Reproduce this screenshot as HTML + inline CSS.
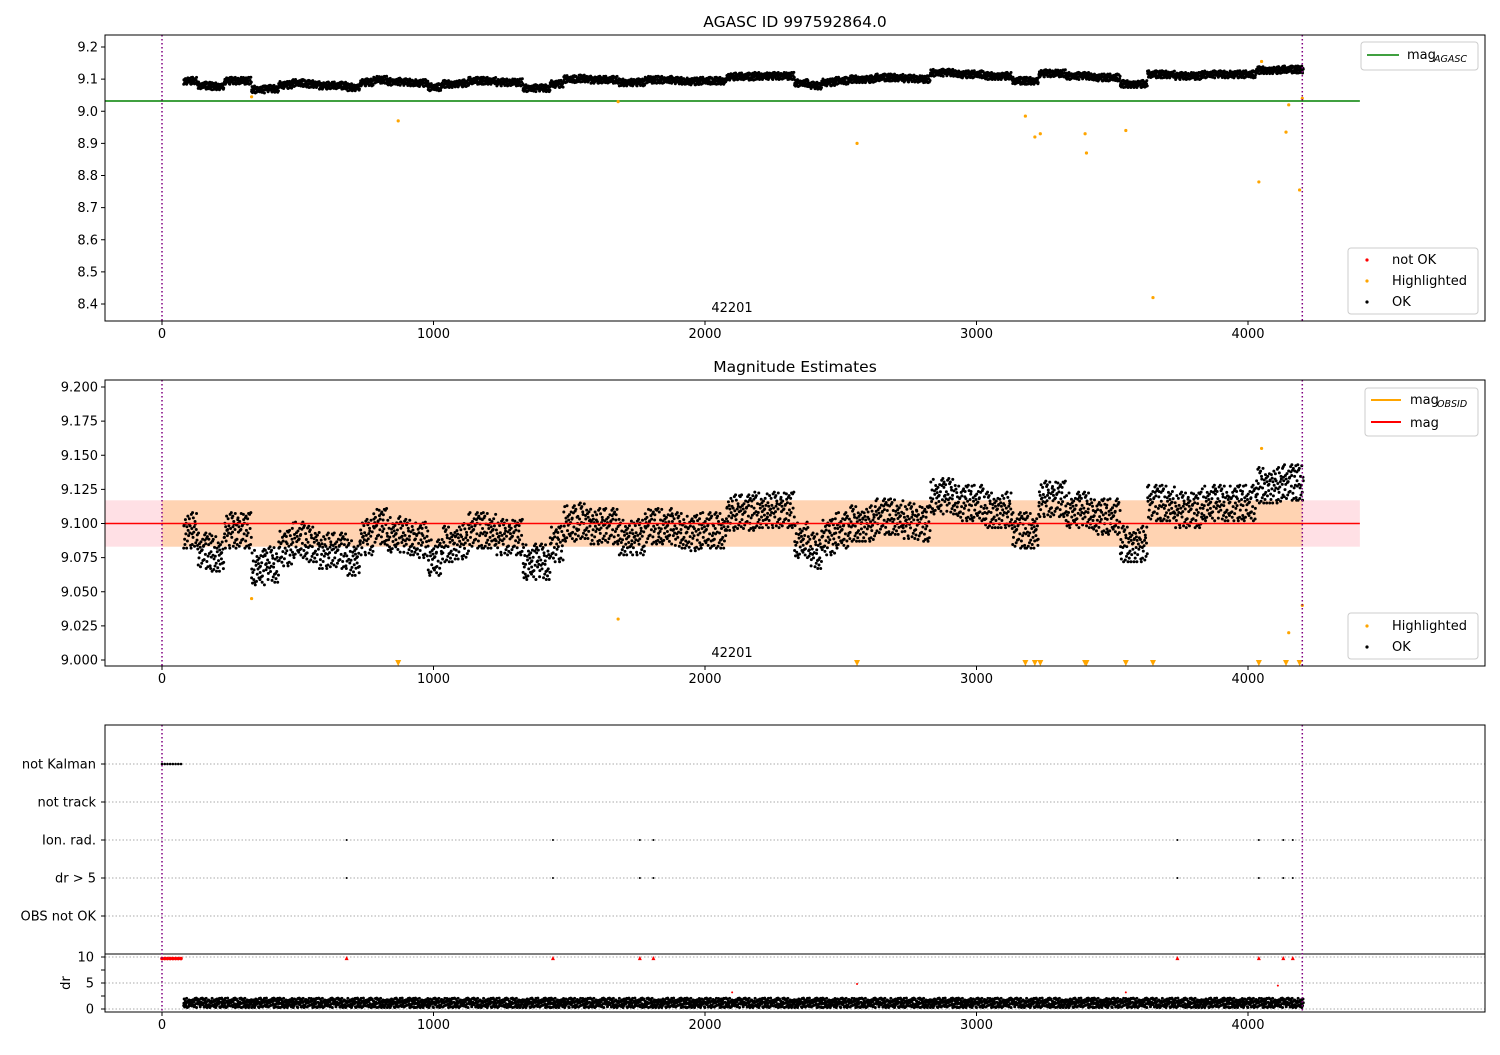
<!DOCTYPE html>
<html><head><meta charset="utf-8"><style>
body{margin:0;background:#fff;font-family:"Liberation Sans","DejaVu Sans",sans-serif}
svg text{font-family:"DejaVu Sans","Liberation Sans",sans-serif;fill:#000}
</style></head><body>
<svg id="c" width="1500" height="1050" xmlns="http://www.w3.org/2000/svg" style="font-size:13px"></svg>
<script>
// ---- data ----
const binStart = 80, binWidth = 50;
const magBins = [9.095,9.08,9.078,9.095,9.095,9.068,9.07,9.082,9.088,9.085,9.08,9.08,9.075,9.09,9.098,9.092,9.09,9.088,9.075,9.085,9.087,9.095,9.095,9.09,9.09,9.072,9.072,9.085,9.1,9.102,9.098,9.098,9.09,9.09,9.098,9.098,9.095,9.093,9.095,9.095,9.108,9.108,9.11,9.11,9.11,9.088,9.08,9.09,9.095,9.1,9.1,9.105,9.105,9.102,9.1,9.12,9.12,9.115,9.115,9.11,9.11,9.095,9.095,9.118,9.118,9.11,9.11,9.105,9.105,9.085,9.085,9.115,9.115,9.11,9.11,9.115,9.115,9.115,9.115,9.128,9.128,9.13,9.13,9.115];
const hiT = [330,870,1680,2560,3180,3215,3235,3400,3405,3550,3650,4040,4050,4140,4150,4190,4200];
const hiMag = [9.045,8.97,9.03,8.90,8.985,8.92,8.93,8.93,8.87,8.94,8.42,8.78,9.155,8.935,9.02,8.755,9.04];
const flagT = [680,1440,1760,1810,3740,4040,4130,4165];
const kalmanT = [0,10,20,30,40,50,60,70];
const drOutT = [2100,2560,3550,4110];
const drOut = [3.2,4.8,3.2,4.5];
const agascMag = 9.032, meanMag = 9.1, bandLo = 9.083, bandHi = 9.117;
const xTicks = [0,1000,2000,3000,4000];
const y1Ticks = [9.2,9.1,9.0,8.9,8.8,8.7,8.6,8.5,8.4];
const y2Ticks = [9.2,9.175,9.15,9.125,9.1,9.075,9.05,9.025,9.0];
const flagLabels = ["not Kalman","not track","Ion. rad.","dr > 5","OBS not OK"];
const drTicks = [10,5,0];
// ---- scales ----
const X = t => 162 + t*0.2715;
const Y1 = v => 47 + (9.2-v)*321.25;
const Y2 = v => 387 + (9.2-v)*1365;
const YF = i => 764 + i*38;
const YD = v => 1009 - v*5.2;
const S = document.getElementById('c'), NS='http://www.w3.org/2000/svg';
function mk(tag, at, txt){const e=document.createElementNS(NS,tag);for(const k in at)e.setAttribute(k,at[k]);if(txt!==undefined)e.textContent=txt;S.appendChild(e);return e;}
const jv=[-1,0.3,-0.5,0.9,0.1,-0.8,0.6,-0.2,1,-0.4,0.4,-1,0.7,-0.1,0.2,-0.6,0.8,-0.9,0.5,0,-0.3,0.35,-0.7,0.05,0.65,-0.15,0.95,-0.55,0.25,-0.85];
const NP=36;
function jt(k){return (k*0.6180339)%1;}
function jvv(k,i){return jv[(k*7+i*3)%jv.length];}
function axesFrame(y0,y1,name){const r=mk('rect',{x:105,y:y0,width:1380,height:y1-y0,fill:'none',stroke:'#000','stroke-width':1});
}
function xAxis(yb){xTicks.forEach(t=>{mk('line',{x1:X(t),x2:X(t),y1:yb,y2:yb+4,stroke:'#000'});
const e=mk('text',{x:X(t),y:yb+17,'text-anchor':'middle'},t);});}
function vlines(y0,y1){[0,4200].forEach(t=>mk('line',{x1:X(t),x2:X(t),y1:y0,y2:y1,stroke:'purple','stroke-width':1.5,'stroke-dasharray':'1.5,2.5'}));}
function binT(i,k){return binStart+(i+jt(k))*binWidth;}
// ---- panel 1 ----
let t1=mk('text',{x:795,y:27,'text-anchor':'middle',style:'font-size:15.5px'},'AGASC ID 997592864.0');
mk('line',{x1:X(-210),x2:X(4412),y1:Y1(agascMag),y2:Y1(agascMag),stroke:'green','stroke-width':1.5});
magBins.forEach((m,i)=>{for(let k=0;k<NP;k++){const t=binT(i,k);const v=m+jvv(k,i)*0.011;
if(t>4205)continue;const c=mk('circle',{cx:X(t),cy:Y1(v),r:1.5,fill:'#000'});}});
hiT.forEach((t,i)=>{const c=mk('circle',{cx:X(t),cy:Y1(hiMag[i]),r:1.6,fill:'orange'});});
vlines(35,321);axesFrame(35,321,'panel1-axes');xAxis(321);
y1Ticks.forEach(v=>{mk('line',{x1:101,x2:105,y1:Y1(v),y2:Y1(v),stroke:'#000'});mk('text',{x:98,y:Y1(v)+4.5,'text-anchor':'end'},v.toFixed(1));});
mk('text',{x:732,y:312,'text-anchor':'middle'},'42201');
mk('rect',{x:1361,y:42,width:117,height:28,rx:3,fill:'#fff',stroke:'#ccc'});
mk('line',{x1:1367,x2:1399,y1:55,y2:55,stroke:'green','stroke-width':1.5});
mk('text',{x:1407,y:59},'mag');mk('text',{x:1434,y:62,style:'font-size:9.5px;font-style:italic'},'AGASC');
mk('rect',{x:1348,y:248,width:130,height:66,rx:3,fill:'#fff',stroke:'#ccc'});
[['red','not OK'],['orange','Highlighted'],['#000','OK']].forEach((a,i)=>{mk('circle',{cx:1367,cy:260+i*21,r:1.6,fill:a[0]});mk('text',{x:1392,y:264+i*21},a[1]);});
// ---- panel 2 ----
let t2=mk('text',{x:795,y:372,'text-anchor':'middle',style:'font-size:15.5px'},'Magnitude Estimates');
mk('rect',{x:X(-210),y:Y2(bandHi),width:X(4412)-X(-210),height:Y2(bandLo)-Y2(bandHi),fill:'rgba(255,0,40,0.12)'});
mk('rect',{x:X(0),y:Y2(bandHi),width:X(4200)-X(0),height:Y2(bandLo)-Y2(bandHi),fill:'rgba(255,165,0,0.22)'});
magBins.forEach((m,i)=>{for(let k=0;k<NP;k++){const t=binT(i,k);const v=m+jvv(k,i)*0.013;
if(t>4205)continue;mk('circle',{cx:X(t),cy:Y2(v),r:1.5,fill:'#000'});}});
mk('line',{x1:X(-210),x2:X(4412),y1:Y2(meanMag),y2:Y2(meanMag),stroke:'red','stroke-width':1.5});
hiT.forEach((t,i)=>{if(hiMag[i]>=9.0)mk('circle',{cx:X(t),cy:Y2(hiMag[i]),r:1.6,fill:'orange'});
else{const x=X(t);mk('path',{d:`M${x-3},${660} L${x+3},${660} L${x},${666} Z`,fill:'orange'});}});
vlines(380,666);axesFrame(380,666,'panel2-axes');xAxis(666);
y2Ticks.forEach(v=>{mk('line',{x1:101,x2:105,y1:Y2(v),y2:Y2(v),stroke:'#000'});mk('text',{x:98,y:Y2(v)+4.5,'text-anchor':'end'},v.toFixed(3));});
mk('text',{x:732,y:657,'text-anchor':'middle'},'42201');
mk('rect',{x:1365,y:388,width:113,height:48,rx:3,fill:'#fff',stroke:'#ccc'});
mk('line',{x1:1371,x2:1401,y1:400,y2:400,stroke:'orange','stroke-width':2});
mk('text',{x:1410,y:404},'mag');mk('text',{x:1437,y:407,style:'font-size:9.5px;font-style:italic'},'OBSID');
mk('line',{x1:1371,x2:1401,y1:422,y2:422,stroke:'red','stroke-width':2});mk('text',{x:1410,y:427},'mag');
mk('rect',{x:1348,y:613,width:130,height:46,rx:3,fill:'#fff',stroke:'#ccc'});
mk('circle',{cx:1367,cy:626,r:1.6,fill:'orange'});mk('text',{x:1392,y:630},'Highlighted');
mk('circle',{cx:1367,cy:647,r:1.6,fill:'#000'});mk('text',{x:1392,y:651},'OK');
// ---- panel 3 ----
flagLabels.forEach((l,i)=>{mk('line',{x1:105,x2:1485,y1:YF(i),y2:YF(i),stroke:'#aaa','stroke-dasharray':'1.5,2'});
mk('line',{x1:101,x2:105,y1:YF(i),y2:YF(i),stroke:'#000'});mk('text',{x:96,y:YF(i)+4.5,'text-anchor':'end'},l);});
drTicks.forEach(v=>{mk('line',{x1:105,x2:1485,y1:YD(v),y2:YD(v),stroke:'#aaa','stroke-dasharray':'1.5,2'});
mk('line',{x1:101,x2:105,y1:YD(v),y2:YD(v),stroke:'#000'});mk('text',{x:94,y:YD(v)+4.5,'text-anchor':'end'},v);});
[2.5,7.5].forEach(v=>mk('line',{x1:101,x2:105,y1:YD(v),y2:YD(v),stroke:'#000'}));
mk('text',{x:70,y:983,'text-anchor':'middle',transform:'rotate(-90 70 983)'},'dr');
kalmanT.forEach(t=>{mk('circle',{cx:X(t),cy:YF(0),r:1.3,fill:'#000'});mk('circle',{cx:X(t),cy:YD(9.7),r:1.8,fill:'red'});});
flagT.forEach(t=>{mk('circle',{cx:X(t),cy:YF(2),r:1,fill:'#000'});mk('circle',{cx:X(t),cy:YF(3),r:1,fill:'#000'});
mk('path',{d:`M${X(t)-2},${YD(9.4)} L${X(t)+2},${YD(9.4)} L${X(t)},${YD(10.2)} Z`,fill:'red'});});
drOutT.forEach((t,i)=>mk('circle',{cx:X(t),cy:YD(drOut[i]),r:1,fill:'red'}));
magBins.forEach((m,i)=>{for(let k=0;k<NP;k++){const t=binT(i,k);if(t>4205)continue;
mk('circle',{cx:X(t),cy:YD(1.2+jvv(k,i+5)*0.9),r:1.5,fill:'#000'});}});
mk('line',{x1:105,x2:1485,y1:954,y2:954,stroke:'#000','stroke-width':1});
vlines(725,1012);axesFrame(725,1012,'panel3-axes');xAxis(1012);
</script>
</body></html>
